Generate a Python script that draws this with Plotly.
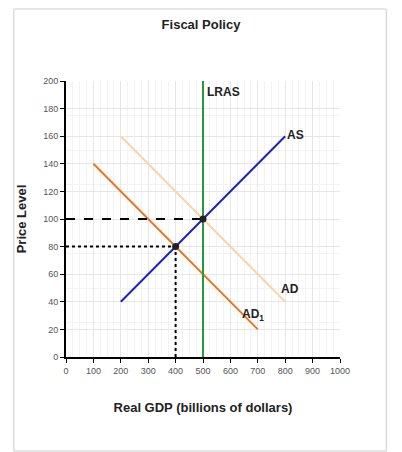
import plotly.graph_objects as go

as_x = [200, 800]; as_y = [40, 160]
ad_x = [200, 800]; ad_y = [160, 40]
ad1_x = [100, 700]; ad1_y = [140, 20]
lras_x = [500, 500]; lras_y = [0, 200]
eq_x = [500, 400]; eq_y = [100, 80]

fig = go.Figure()
fig.add_trace(go.Scatter(x=ad_x, y=ad_y, mode="lines", line=dict(color="#fad5a5", width=2)))
fig.add_trace(go.Scatter(x=ad1_x, y=ad1_y, mode="lines", line=dict(color="#e8761e", width=2)))
fig.add_trace(go.Scatter(x=as_x, y=as_y, mode="lines", line=dict(color="#1f1fc8", width=2)))
fig.add_trace(go.Scatter(x=lras_x, y=lras_y, mode="lines", line=dict(color="#239b3a", width=2)))
fig.add_trace(go.Scatter(x=[0, eq_x[0]], y=[eq_y[0], eq_y[0]], mode="lines", line=dict(color="black", width=2, dash="dash")))
fig.add_trace(go.Scatter(x=[0, eq_x[1]], y=[eq_y[1], eq_y[1]], mode="lines", line=dict(color="black", width=2, dash="dot")))
fig.add_trace(go.Scatter(x=[eq_x[1], eq_x[1]], y=[0, eq_y[1]], mode="lines", line=dict(color="black", width=2, dash="dot")))
fig.add_trace(go.Scatter(x=eq_x, y=eq_y, mode="markers", marker=dict(color="#222", size=7)))

lab = dict(family="Arial", size=12, color="#222")
fig.add_annotation(x=500, y=200, text="<b>LRAS</b>", showarrow=False, xanchor="left", yanchor="top", xshift=2, yshift=-2, font=lab)
fig.add_annotation(x=800, y=160, text="<b>AS</b>", showarrow=False, xanchor="left", yanchor="bottom", xshift=0, yshift=-8, font=lab)
fig.add_annotation(x=800, y=40, text="<b>AD</b>", showarrow=False, xanchor="center", yanchor="bottom", xshift=5, yshift=4, font=lab)
fig.add_annotation(x=700, y=20, text="<b>AD<sub>1</sub></b>", showarrow=False, xanchor="center", yanchor="bottom", xshift=-5, yshift=4, font=lab)

fig.update_layout(
    width=402, height=452, margin=dict(l=54, r=70, t=73, b=103),
    paper_bgcolor="white", plot_bgcolor="white", showlegend=False,
    title=dict(text="<b>Fiscal Policy</b>", x=(201-8)/402, xanchor="center", y=1-12/452, yanchor="top",
               font=dict(family="Arial", size=13, color="#222")),
    font=dict(family="Arial", size=9, color="#555"),
)
axcommon = dict(showline=True, linecolor="black", linewidth=2, ticks="outside", ticklen=4, tickcolor="black",
                gridcolor="#e6e6e6", zeroline=False,
                minor=dict(dtick=25, showgrid=True, gridcolor="#f3f3f3"))
fig.update_xaxes(range=[0, 1000], dtick=100, **axcommon,
                 title=dict(text="<b>Real GDP (billions of dollars)</b>", font=dict(family="Arial", size=13, color="#222"), standoff=28))
fig.update_yaxes(range=[0, 200], dtick=20, **axcommon,
                 title=dict(text="<b>Price Level</b>", font=dict(family="Arial", size=13, color="#222"), standoff=14))
fig.add_shape(type="rect", xref="paper", yref="paper", x0=-53/278, x1=1+47/278, y0=-94/276, y1=1+72/276,
              line=dict(color="#cccccc", width=1))
fig.write_html("out.html")
